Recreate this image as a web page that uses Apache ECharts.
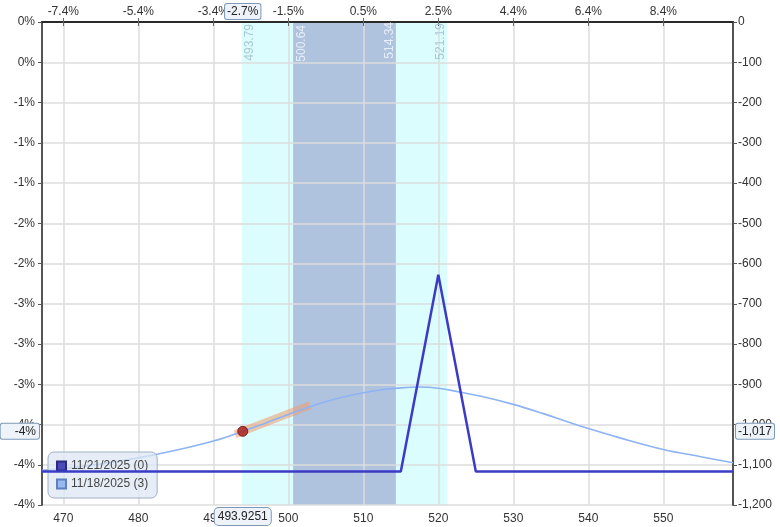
<!DOCTYPE html>
<html>
<head>
<meta charset="utf-8">
<script src="https://cdn.jsdelivr.net/npm/echarts@6/dist/echarts.min.js"></script>
<style>
html,body{margin:0;padding:0;background:#fff;}
#chart{width:780px;height:527px;}
</style>
</head>
<body>
<div id="chart"></div>
<script>
// ---- data ----
const xRange = [467.16, 559.29];
const xTickValues = [470, 480, 490, 500, 510, 520, 530, 540, 550];
const topTickLabels = ['-7.4%', '-5.4%', '-3.4%', '-1.5%', '0.5%', '2.5%', '4.4%', '6.4%', '8.4%'];
const yTickValues = [0, -100, -200, -300, -400, -500, -600, -700, -800, -900, -1000, -1100, -1200];
const leftTickLabels = ['0%', '0%', '-1%', '-1%', '-1%', '-2%', '-2%', '-3%', '-3%', '-3%', '-4%', '-4%', '-4%'];

const expiryName = '11/21/2025 (0)';
const expiryPrices = [467.16, 515, 520, 525, 559.29];
const expiryValues = [-1117, -1117, -628, -1117, -1117];

const tPlusName = '11/18/2025 (3)';
const tPlusPrices = [467.16, 470, 475, 480, 485, 490, 493.93, 497, 500, 503, 506, 509, 512, 515, 517.5, 520, 523, 526, 530, 534, 537.5, 540, 544, 550, 555, 559.29];
const tPlusValues = [-1114, -1109, -1098, -1083, -1064, -1041, -1017, -996, -975, -955, -938, -925, -915, -909, -907, -910, -920, -931, -950, -973, -995, -1010, -1032, -1062, -1080, -1095];

const outerBand = [493.79, 521.19];
const innerBand = [500.64, 514.34];

const cursorPoint = [493.9251, -1017];
const cursorLabels = ['-2.7%', '493.9251', '-4%', '-1,017']; // top, bottom, left, right
const tangentPrices = [492.9, 502.9];
const tangentValues = [-1024, -952];

const zip = (a, b) => a.map((v, i) => [v, b[i]]);

const FONT = 'Liberation Sans';
const labelColor = '#333';
const pointerLabel = {
  show: true,
  backgroundColor: '#eef3fa',
  borderColor: '#7d98b8',
  borderWidth: 1,
  borderRadius: 2,
  color: '#222',
  fontFamily: FONT,
  fontSize: 12,
  padding: [2, 2, 1, 2],
  shadowBlur: 0
};
function pointer(value, text, extra) {
  return {
    show: true, status: 'show', value: value, type: 'line', triggerTooltip: false,
    lineStyle: { opacity: 0 },
    label: Object.assign({}, pointerLabel, { formatter: () => text }, extra || {})
  };
}

const chart = echarts.init(document.getElementById('chart'));
chart.setOption({
  animation: false,
  backgroundColor: '#fff',
  grid: { left: 42, right: 47, top: 22, bottom: 22, containLabel: false },
  legend: {
    orient: 'vertical', left: 48, top: 452,
    backgroundColor: 'rgba(222,231,244,0.75)',
    borderColor: '#9fb0c6', borderWidth: 1, borderRadius: 6,
    padding: [8, 9, 8, 8], itemGap: 6,
    icon: 'rect', itemWidth: 9, itemHeight: 9,
    textStyle: { fontFamily: FONT, fontSize: 12, color: '#444' },
    data: [expiryName, tPlusName]
  },
  xAxis: [
    {
      type: 'value', position: 'bottom', min: xRange[0], max: xRange[1],
      axisLine: { show: true, lineStyle: { color: '#444', width: 2 } },
      axisTick: { show: true, length: 4, customValues: xTickValues, lineStyle: { color: '#666' } },
      axisLabel: { customValues: xTickValues, color: labelColor, fontFamily: FONT, fontSize: 12, margin: 8, formatter: v => String(v) },
      splitLine: { show: true, lineStyle: { color: '#dcdcdc', width: 1.5 } },
      axisPointer: pointer(cursorPoint[0], cursorLabels[1], { borderRadius: 4, padding: [3, 3, 2, 3] })
    },
    {
      type: 'value', position: 'top', min: xRange[0], max: xRange[1],
      axisLine: { show: true, lineStyle: { color: '#222', width: 1.5 } },
      axisTick: { show: true, length: 4, customValues: xTickValues, lineStyle: { color: '#666' } },
      axisLabel: { customValues: xTickValues, color: labelColor, fontFamily: FONT, fontSize: 12, margin: 4,
        formatter: v => topTickLabels[xTickValues.indexOf(Math.round(v))] },
      splitLine: { show: false },
      axisPointer: pointer(cursorPoint[0], cursorLabels[0])
    }
  ],
  yAxis: [
    {
      type: 'value', position: 'right', min: -1200, max: 0, interval: 100,
      axisLine: { show: true, lineStyle: { color: '#555', width: 2 } },
      axisTick: { show: true, length: 4, lineStyle: { color: '#555' } },
      axisLabel: { color: labelColor, fontFamily: FONT, fontSize: 12, margin: 5,
        formatter: v => v.toLocaleString('en-US') },
      splitLine: { show: false },
      axisPointer: pointer(cursorPoint[1], cursorLabels[3])
    },
    {
      type: 'value', position: 'left', min: -1200, max: 0, interval: 100,
      axisLine: { show: true, lineStyle: { color: '#555', width: 2 } },
      axisTick: { show: true, length: 4, lineStyle: { color: '#555' } },
      axisLabel: { color: labelColor, fontFamily: FONT, fontSize: 12, margin: 7,
        formatter: v => leftTickLabels[yTickValues.indexOf(v)] },
      splitLine: { show: true, lineStyle: { color: '#dcdcdc', width: 1.5 } },
      axisPointer: pointer(cursorPoint[1], cursorLabels[2], { padding: [2, 3, 1, 14] })
    }
  ],
  series: [
    {
      name: 'bands', type: 'line', data: [], z: -1, silent: true,
      markArea: {
        silent: true, z: -1,
        data: [
          [{ xAxis: outerBand[0], itemStyle: { color: '#dcfdfd' } }, { xAxis: outerBand[1] }],
          [{ xAxis: innerBand[0], itemStyle: { color: '#afc3df' } }, { xAxis: innerBand[1] }]
        ]
      },
      markLine: {
        silent: true, symbol: 'none', z: 1,
        lineStyle: { color: 'rgba(0,0,0,0)', width: 0.01 },
        label: { show: true, fontFamily: FONT, fontSize: 12 },
        data: [
          { xAxis: outerBand[0], label: { position: 'insideEndBottom', distance: 2, color: '#a9c7d6', formatter: String(outerBand[0]) } },
          { xAxis: innerBand[0], label: { position: 'insideEndBottom', distance: 3, color: '#e6eef8', formatter: String(innerBand[0]) } },
          { xAxis: innerBand[1], label: { position: 'insideEndTop', distance: 0, color: '#e6eef8', formatter: String(innerBand[1]) } },
          { xAxis: outerBand[1], label: { position: 'insideEndTop', distance: 1, color: '#a9c7d6', formatter: String(outerBand[1]) } }
        ]
      }
    },
    {
      name: tPlusName, type: 'line', smooth: 0.4, showSymbol: false,
      data: zip(tPlusPrices, tPlusValues),
      lineStyle: { color: '#8db3f3', width: 1.6 },
      itemStyle: { color: '#9ab9ee', borderColor: '#5f7fc0', borderWidth: 1 },
      z: 3
    },
    {
      name: 'tangent', type: 'line', showSymbol: false, silent: true,
      data: zip(tangentPrices, tangentValues),
      lineStyle: { color: 'rgba(240,155,105,0.55)', width: 8, cap: 'butt' },
      z: 2
    },
    {
      name: expiryName, type: 'line', showSymbol: false,
      data: zip(expiryPrices, expiryValues),
      lineStyle: { color: '#3b3bc6', width: 2.5 },
      itemStyle: { color: '#4a4ab8', borderColor: '#2a2a80', borderWidth: 1 },
      z: 4
    },
    {
      name: 'cursor', type: 'scatter', symbolSize: 10,
      data: [cursorPoint],
      itemStyle: { color: '#a81818', borderColor: '#6a0c0c', borderWidth: 1 },
      z: 5
    }
  ]
});
</script>
</body>
</html>
